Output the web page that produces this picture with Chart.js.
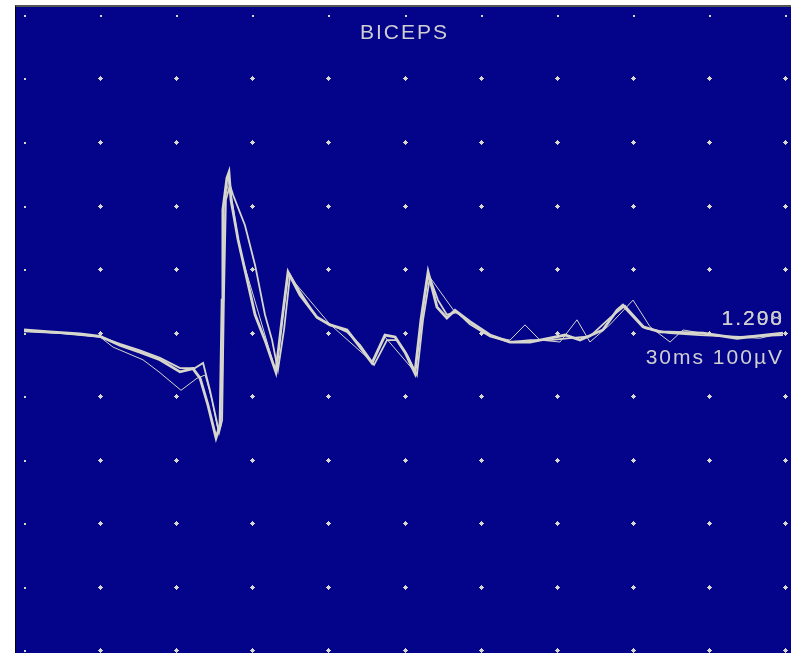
<!DOCTYPE html>
<html>
<head>
<meta charset="utf-8">
<script src="https://cdn.jsdelivr.net/npm/chart.js@4"></script>
<style>
  body { margin: 0; background: #ffffff; }
  #panel {
    position: absolute;
    left: 15px;
    top: 5px;
    width: 775px;
    height: 646px;
    background: #04048a;
    border-top: 2px solid #555555;
    border-left: 1px solid #000000;
  }
  canvas { display: block; }
</style>
</head>
<body>
<div id="panel"><canvas id="emgChart" width="775" height="646"></canvas></div>
<script>
// Time axis in ms (30 ms / division), amplitude in µV (100 µV / division)
const xTicks = [0, 30, 60, 90, 120, 150, 180, 210, 240, 270, 300];
const yTicks = [-500, -400, -300, -200, -100, 0, 100, 200, 300, 400, 500];

const titleText = "BICEPS";
const gainLabels = ["1.200", "1.298"];
const scaleLabel = "30ms 100µV";

// Main trace
const timesA = [0, 10.2, 22.1, 30, 37.8, 45.7, 53.6, 61.5, 66.6, 69.4, 72.5, 75.7, 77.3, 78.1, 78.4, 80.0, 80.8, 81.6, 84.4,
  91.1, 95, 99.3, 101.7, 104.1, 108.8, 115.5, 120.6, 127.3, 132.5, 137.2, 142.3, 146.3, 150.2, 154.1, 156.5, 159.3,
  162.8, 166.7, 169.9, 175.8, 183.7, 191.6, 199.5, 207.3, 213.3, 219.2, 228.2, 233.8, 236.1, 244, 250.7, 267.7, 281.1, 299.2];
const valuesA = [4, 1, -2, -6, -20, -31, -43, -62, -57, -72, -114, -166, -146, 51, 193, 243, 252, 209, 146,
  28, -12, -62, 20, 95, 59, 24, 12, 4, -23, -48, -4, -7, -31, -64, 20, 95,
  40, 23, 35, 17, -4, -15, -15, -9, -4, -12, 4, 35, 43, 9, 1, -1, -9, -1];

// Second sweep, slightly delayed
const timesB = [0, 14.2, 30, 37.8, 45.7, 53.6, 61.5, 67.4, 70.6, 73.3, 76.9, 78.1, 78.8, 79.6, 81.2, 82.4, 87.1, 91.1,
  95, 97.8, 100.1, 102.5, 104.9, 108.8, 115.5, 120.6, 127.3, 132.5, 138.0, 143.1, 147.0, 151.0, 154.9, 157.3, 160.0,
  163.2, 166.7, 170.7, 175.8, 183.7, 191.6, 199.5, 207.3, 215.2, 223.1, 231.0, 236.9, 244.8, 254.7, 266.5, 282.3, 299.2];
const valuesB = [2, -1, -7, -18, -28, -40, -56, -56, -48, -91, -157, -138, 51, 209, 232, 217, 169, 106,
  28, -12, -59, 4, 91, 64, 23, 13, 1, -20, -51, -12, -12, -35, -67, 20, 86,
  51, 28, 32, 13, -6, -15, -12, -12, -9, -6, 23, 42, 7, -1, -4, -7, -4];

// Third sweep (thin, noisier)
const timesC = [0, 14.2, 30, 35.1, 46.9, 53.2, 61.9, 68.2, 71.4, 74.1, 76.5, 78.1, 79.2, 80.8, 85.1, 99.3, 104.1,
  120.6, 137.2, 142.3, 154.1, 159.3, 169.9, 175.8, 183.7, 191.6, 197.5, 203.4, 211.3, 218.0, 223.1, 230.9, 240.1,
  246.8, 254.7, 259.8, 274.4, 290.1, 299.2];
const valuesC = [2, -1, -7, -23, -43, -62, -91, -72, -67, -106, -154, -122, 209, 240, 130, -62, 91,
  13, -46, -7, -62, 91, 32, 17, -6, -12, 12, -12, -15, 20, -15, 12, 51,
  9, -15, 4, -6, -9, -1];

const traceColor = "#d6d6cc";

function toPoints(times, values) {
  return times.map((t, i) => ({ x: t, y: values[i] }));
}

// Dotted grid at every division, plus the screen labels
const gridDots = {
  id: 'gridDots',
  beforeDatasetsDraw(chart) {
    const ctx = chart.ctx;
    const xs = chart.scales.x;
    const ys = chart.scales.y;
    ctx.save();
    ctx.fillStyle = traceColor;
    xTicks.forEach((tx, i) => {
      yTicks.forEach((ty, j) => {
        const px = Math.round(xs.getPixelForValue(tx));
        const py = Math.round(ys.getPixelForValue(ty));
        if (i === 0 || j === yTicks.length - 1) {
          ctx.fillRect(px, py, 2, 2);
        } else {
          ctx.fillRect(px - 1, py - 1, 3, 3);
          ctx.fillRect(px - 2, py, 5, 1);
          ctx.fillRect(px, py - 2, 1, 5);
        }
      });
    });
    ctx.restore();
  },
  afterDraw(chart) {
    const ctx = chart.ctx;
    const area = chart.chartArea;
    ctx.save();
    ctx.fillStyle = "#cfcfcf";
    ctx.font = "21px 'Liberation Sans', Arial, sans-serif";
    ctx.letterSpacing = "2px";
    ctx.textBaseline = "middle";
    ctx.textAlign = "center";
    ctx.fillText(titleText, (area.left + area.right) / 2, 26);
    ctx.textAlign = "right";
    gainLabels.forEach(t => ctx.fillText(t, area.right - 1, 312));
    ctx.fillText(scaleLabel, area.right - 1, 351);
    ctx.restore();
  }
};

const ctx = document.getElementById('emgChart').getContext('2d');
new Chart(ctx, {
  type: 'line',
  data: {
    datasets: [
      {
        data: toPoints(timesC, valuesC),
        borderColor: traceColor,
        borderWidth: 1,
        pointRadius: 0,
        tension: 0
      },
      {
        data: toPoints(timesB, valuesB),
        borderColor: traceColor,
        borderWidth: 1.8,
        pointRadius: 0,
        tension: 0
      },
      {
        data: toPoints(timesA, valuesA),
        borderColor: traceColor,
        borderWidth: 2.8,
        pointRadius: 0,
        tension: 0
      }
    ]
  },
  options: {
    responsive: false,
    animation: false,
    devicePixelRatio: 1,
    layout: { padding: { left: 8, right: 6, top: 8, bottom: 3 } },
    plugins: {
      legend: { display: false },
      tooltip: { enabled: false },
      title: { display: false }
    },
    scales: {
      x: { type: 'linear', min: 0, max: 300, display: false },
      y: { type: 'linear', min: -500, max: 500, display: false }
    }
  },
  plugins: [gridDots]
});
</script>
</body>
</html>
